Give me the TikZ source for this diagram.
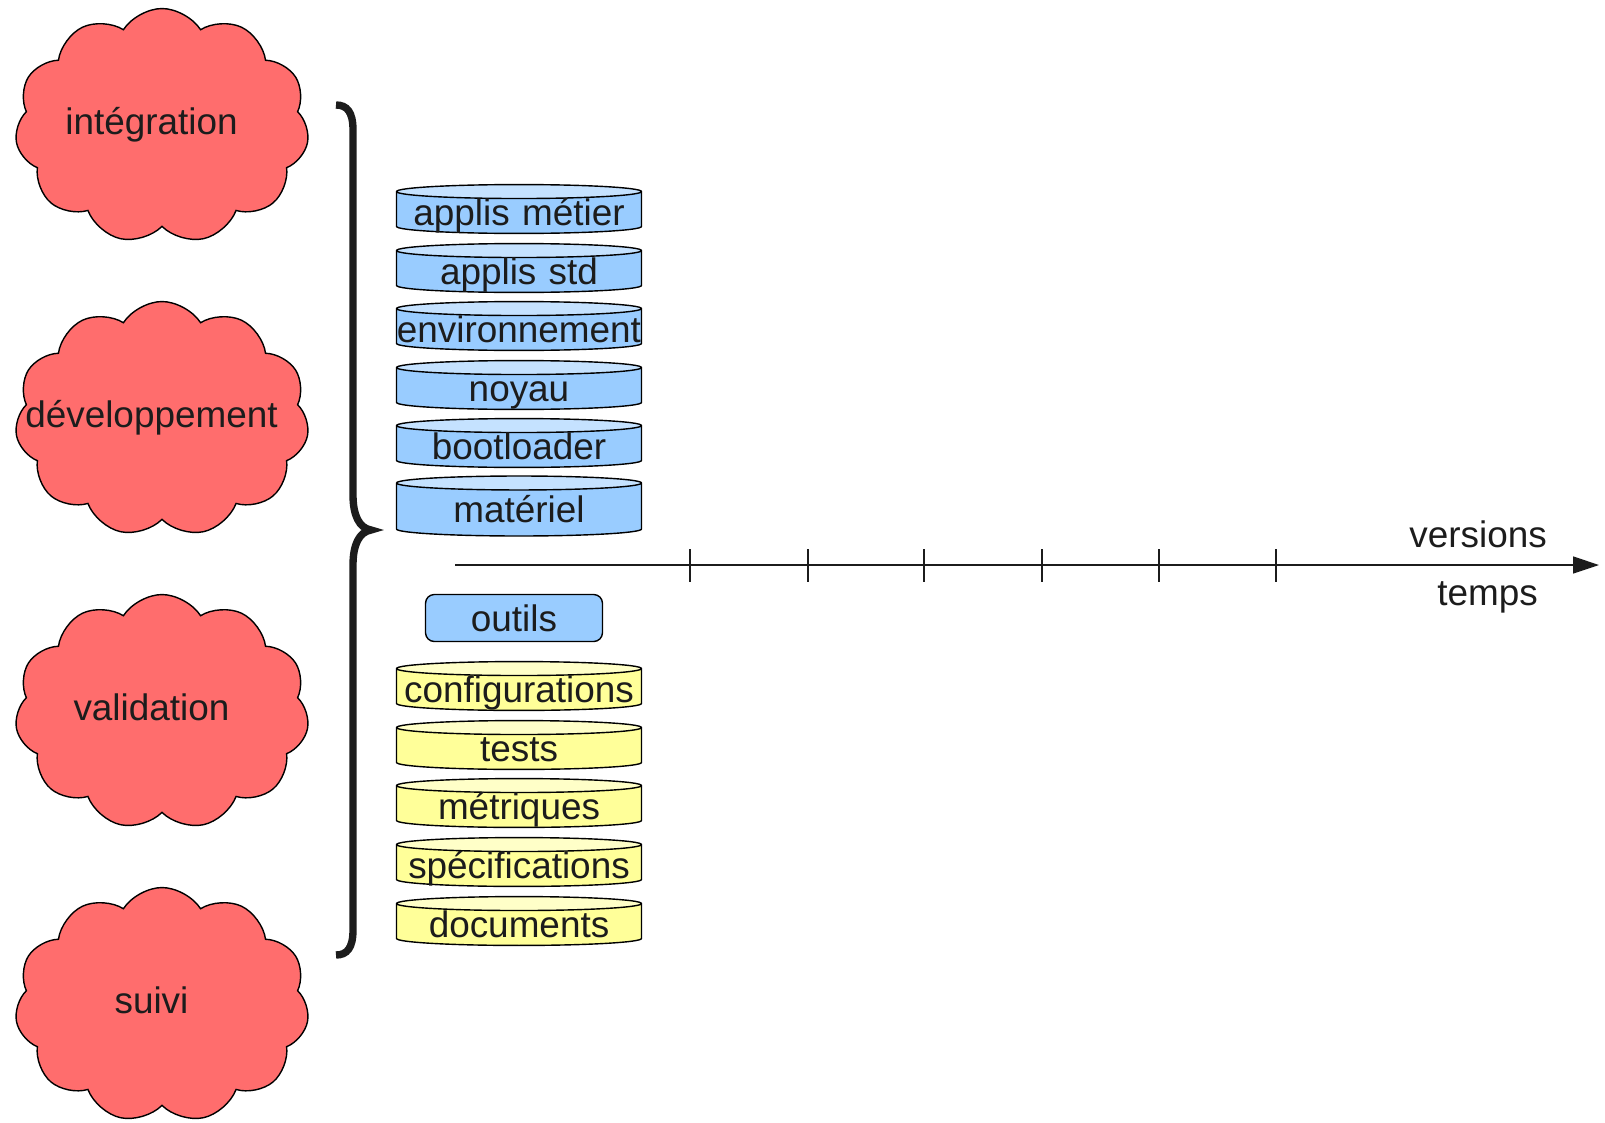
\documentclass[tikz,border=0pt]{standalone}
\usepackage{fontspec}
\setmainfont{Liberation Sans}
\usetikzlibrary{shapes.geometric, shapes.symbols, arrows.meta}

\definecolor{rouge}{HTML}{FF6D6D}
\definecolor{bleu}{HTML}{99CCFF}
\definecolor{bleuclair}{HTML}{C5E2FF}
\definecolor{jaune}{HTML}{FFFF99}
\definecolor{jauneclair}{HTML}{FFFFC8}
\definecolor{encre}{HTML}{1C1C1C}

\begin{document}
\begin{tikzpicture}[x=0.02cm, y=-0.02cm,
    texte/.style={font=\fontsize{21}{25}\selectfont, text=encre},
    etiquette/.style={texte, text height=19pt, text depth=4.5pt, xshift=-6pt, yshift=2.5pt},
    nuage/.style={cloud, cloud puffs=11, cloud puff arc=115, cloud ignores aspect, draw, fill=rouge, line width=0.8pt, minimum width=5.88cm, minimum height=4.7cm},
    couche/.style={texte, cylinder, shape border rotate=90, aspect=0.057, draw, line width=0.8pt, inner sep=0pt, text width=4.9cm, align=center, text height=15pt, text depth=0.5pt, anchor=shape center, cylinder uses custom fill, cylinder body fill=bleu, cylinder end fill=bleuclair},
    doc/.style={couche, cylinder body fill=jaune, cylinder end fill=jauneclair}]
    \useasboundingbox (0,0) rectangle (1605,1122);

    \node [nuage, label={[etiquette]center:intégration}] (integration) at (162,126) {};
    \node [nuage, label={[etiquette]center:développement}] (developpement) at (162,419) {};
    \node [nuage, label={[etiquette]center:validation}] (validation) at (162,712) {};
    \node [nuage, label={[etiquette]center:suivi}] (suivi) at (162,1005) {};

    \draw [encre, line width=4.2pt] (336,105) .. controls (347,105) and (353,112) .. (353,130) -- (353,495) .. controls (353,515) and (359,528) .. (371,530) .. controls (359,532) and (353,545) .. (353,565) -- (353,930) .. controls (353,948) and (347,955) .. (336,955);

    \node [couche] (metier) at (519,209) {applis métier};
    \node [couche] (std) at (519,268) {applis std};
    \node [couche] (env) at (519,326) {environnement};
    \node [couche] (noyau) at (519,385) {noyau};
    \node [couche] (boot) at (519,443) {bootloader};
    \node [couche, minimum height=1.2cm] (materiel) at (519,506) {matériel};

    \node [texte, draw, fill=bleu, line width=0.8pt, rounded corners=5pt, minimum width=3.54cm, minimum height=0.94cm] (outils) at (514,618) {outils};

    \node [doc] (config) at (519,686) {configurations};
    \node [doc] (tests) at (519,745) {tests};
    \node [doc] (metriques) at (519,803) {métriques};
    \node [doc] (specs) at (519,862) {spécifications};
    \node [doc] (docs) at (519,921) {documents};

    \coordinate (debut) at (455,565);
    \coordinate (fin) at (1599,565);
    \draw [encre, line width=0.8pt, -{Triangle[length=14.7pt, width=9.6pt]}] (debut) -- (fin);
    \foreach \x in {690,808,924,1042,1159,1276}
        \draw [encre, line width=0.8pt] (\x,549) -- (\x,582);
    \node [texte, anchor=east] (versions) at (1553,534) {versions};
    \node [texte, anchor=east] (temps) at (1544,597) {temps};
\end{tikzpicture}
\end{document}
